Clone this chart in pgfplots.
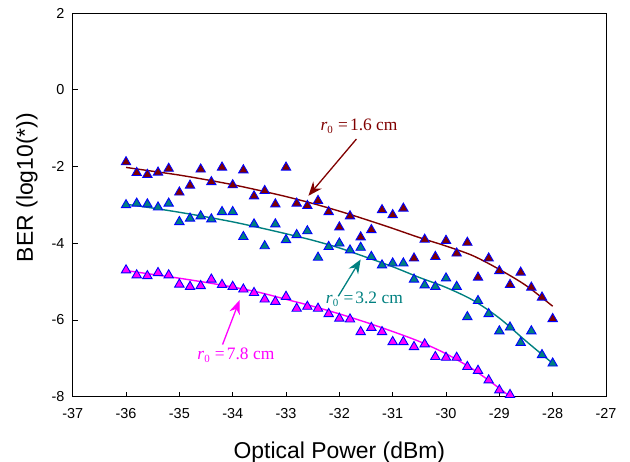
\documentclass[border=0pt]{standalone}
\usepackage{fontspec}
\setmainfont{Liberation Sans}
\newfontfamily\seriffont{Liberation Serif}
\usepackage{pgfplots}
\pgfplotsset{compat=1.18}
\usetikzlibrary{arrows.meta}

\definecolor{cred}{RGB}{128,0,0}
\definecolor{cteal}{RGB}{0,128,128}
\definecolor{cmag}{RGB}{255,0,255}
\newcommand\anno{\seriffont\fontsize{17.5}{17.5}\selectfont}
\newcommand\subz{\raisebox{-0.35ex}{\fontsize{11}{11}\selectfont 0}}

\pgfplotstableread{
x y
-36.0 -1.88
-35.8 -2.16
-35.6 -2.21
-35.4 -2.15
-35.2 -2.05
-35.0 -2.67
-34.8 -2.49
-34.6 -2.07
-34.4 -2.40
-34.2 -2.02
-34.0 -2.48
-33.8 -2.09
-33.6 -2.77
-33.4 -2.63
-33.2 -2.98
-33.0 -2.02
-32.8 -2.96
-32.6 -3.02
-32.4 -2.89
-32.2 -3.18
-32.0 -3.58
-31.8 -3.29
-31.6 -3.84
-31.4 -3.65
-31.2 -3.13
-31.0 -3.26
-30.8 -3.09
-30.6 -4.39
-30.4 -3.90
-30.2 -4.35
-30.0 -3.93
-29.8 -4.26
-29.6 -3.98
-29.4 -4.89
-29.2 -4.39
-29.0 -4.72
-28.8 -5.08
-28.6 -4.76
-28.4 -5.15
-28.2 -5.41
-28.0 -5.97
}\redpts

\pgfplotstableread{
x y
-36.0 -3.00
-35.8 -2.96
-35.6 -2.98
-35.4 -3.06
-35.2 -2.96
-35.0 -3.44
-34.8 -3.35
-34.6 -3.29
-34.4 -3.37
-34.2 -3.18
-34.0 -3.18
-33.8 -3.83
-33.6 -3.50
-33.4 -4.07
-33.2 -3.50
-33.0 -3.91
-32.8 -3.78
-32.6 -3.68
-32.4 -4.37
-32.2 -4.09
-32.0 -4.00
-31.8 -4.18
-31.6 -4.11
-31.4 -4.35
-31.2 -4.57
-31.0 -4.52
-30.8 -4.52
-30.6 -4.94
-30.4 -5.09
-30.2 -5.13
-30.0 -4.91
-29.8 -5.13
-29.6 -5.92
-29.4 -5.50
-29.2 -5.84
-29.0 -6.29
-28.8 -6.19
-28.6 -6.59
-28.4 -6.29
-28.2 -6.91
-28.0 -7.13
}\tealpts

\pgfplotstableread{
x y
-36.0 -4.70
-35.8 -4.83
-35.6 -4.85
-35.4 -4.77
-35.2 -4.83
-35.0 -5.07
-34.8 -5.13
-34.6 -5.11
-34.4 -4.94
-34.2 -5.08
-34.0 -5.13
-33.8 -5.20
-33.6 -5.29
-33.4 -5.46
-33.2 -5.52
-33.0 -5.39
-32.8 -5.70
-32.6 -5.65
-32.4 -5.70
-32.2 -5.84
-32.0 -5.96
-31.8 -5.98
-31.6 -6.31
-31.4 -6.20
-31.2 -6.31
-31.0 -6.57
-30.8 -6.57
-30.6 -6.70
-30.4 -6.63
-30.2 -6.96
-30.0 -6.98
-29.8 -6.98
-29.6 -7.22
-29.4 -7.32
-29.2 -7.57
-29.0 -7.83
-28.8 -7.95
}\magpts

\pgfplotstableread{
x y
-36 -2.02
-35.5 -2.12
-35 -2.22
-34.5 -2.34
-34 -2.47
-33.5 -2.62
-33 -2.78
-32.5 -2.96
-32 -3.16
-31.5 -3.38
-31 -3.61
-30.5 -3.85
-30 -4.07
-29.5 -4.32
-29 -4.68
-28.5 -5.10
-28 -5.64
}\redfit

\pgfplotstableread{
x y
-36 -2.98
-35.5 -3.08
-35 -3.19
-34.5 -3.31
-34 -3.44
-33.5 -3.59
-33 -3.75
-32.5 -3.92
-32 -4.12
-31.5 -4.36
-31 -4.61
-30.5 -4.89
-30 -5.15
-29.5 -5.48
-29 -5.95
-28.5 -6.55
-28 -7.13
}\tealfit

\pgfplotstableread{
x y
-36 -4.71
-35.5 -4.81
-35 -4.91
-34.5 -5.02
-34 -5.14
-33.5 -5.28
-33 -5.46
-32.5 -5.64
-32 -5.84
-31.5 -6.06
-31 -6.30
-30.5 -6.56
-30 -6.88
-29.5 -7.28
-29 -7.78
-28.8 -8.00
}\magfit

\begin{document}
\begin{tikzpicture}
\useasboundingbox (0,0) rectangle (630bp,462bp);
\begin{axis}[
  at={(72.7bp,65.3bp)}, anchor=south west,
  width=533.3bp, height=383.4bp, scale only axis,
  xmin=-37, xmax=-27, ymin=-8, ymax=2,
  xtick={-37,-36,...,-27}, ytick={-8,-6,...,2},
  tick align=inside, tick pos=left,
  major tick length=5bp,
  axis line style={line width=1bp},
  tick style={line width=1bp, black},
  /pgf/number format/assume math mode=true,
  ticklabel style={font=\fontsize{14.5}{14.5}\selectfont},
  xticklabel style={anchor=center, inner sep=0pt, yshift=-16.6bp},
  yticklabel style={anchor=east, inner sep=0pt, xshift=-8bp},
  xlabel={Optical Power (dBm)},
  ylabel={BER (log10(*))},
  label style={font=\fontsize{23}{23}\selectfont},
  xlabel style={at={(axis description cs:0.5,0)}, anchor=center, yshift=-55.8bp},
  ylabel style={at={(axis description cs:-0.0857,0.5455)}, anchor=center},
  clip=false,
]
\addplot[cred, line width=1.4bp, smooth, no markers] table {\redfit};
\addplot[cteal, line width=1.4bp, smooth, no markers] table {\tealfit};
\addplot[cmag, line width=1.4bp, smooth, no markers] table {\magfit};

\addplot[only marks, mark=triangle*, mark size=5.4bp,
  mark options={draw=blue, fill=cred, line width=0.9bp}] table {\redpts};
\addplot[only marks, mark=triangle*, mark size=5.4bp,
  mark options={draw=blue, fill=cteal, line width=0.9bp}] table {\tealpts};
\addplot[only marks, mark=triangle*, mark size=5.4bp,
  mark options={draw=blue, fill=cmag, line width=0.9bp}] table {\magpts};

\draw[cred, line width=1.3bp, -{Stealth[length=14bp,width=11bp]}]
  (axis cs:-31.68,-1.28) -- (axis cs:-32.58,-2.76);
\node[text=cred, font=\anno] at (axis cs:-31.63,-0.94)
  {\textit{r}\subz\hspace{0.3em}=\hspace{0.12em}1.6 cm};

\draw[cteal, line width=1.3bp, -{Stealth[length=14bp,width=11bp]}]
  (axis cs:-32.02,-5.38) -- (axis cs:-31.6,-4.42);
\node[text=cteal, font=\anno] at (axis cs:-31.53,-5.45)
  {\textit{r}\subz\hspace{0.3em}=\hspace{0.12em}3.2 cm};

\draw[cmag, line width=1.3bp, -{Stealth[length=14bp,width=11bp]}]
  (axis cs:-34.19,-6.64) -- (axis cs:-33.87,-5.48);
\node[text=cmag, font=\anno] at (axis cs:-33.94,-6.91)
  {\textit{r}\subz\hspace{0.3em}=\hspace{0.12em}7.8 cm};
\end{axis}
\end{tikzpicture}
\end{document}
